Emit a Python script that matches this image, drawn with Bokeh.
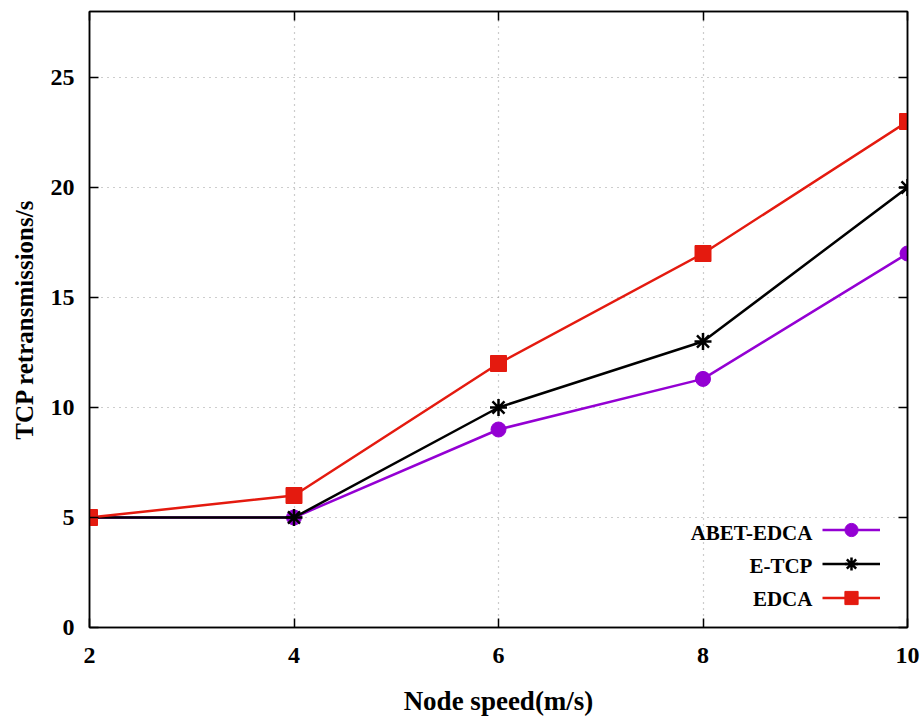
from bokeh.plotting import figure
from bokeh.models import LinearAxis, Legend, LegendItem, FixedTicker, Range1d, Label
from bokeh.embed import file_html
from bokeh.resources import INLINE

speeds = [2, 4, 6, 8, 10]
abet_edca = [5, 5, 9, 11.3, 17]
e_tcp = [5, 5, 10, 13, 20]
edca = [5, 6, 12, 17, 23]
x_ticks = [2, 4, 6, 8, 10]
y_ticks = [0, 5, 10, 15, 20, 25]
series_names = ["ABET-EDCA", "E-TCP", "EDCA"]

FONT = "Liberation Serif"

p = figure(width=922, height=719, output_backend="svg", toolbar_location=None,
           x_range=Range1d(2, 10), y_range=Range1d(0, 28),
           min_border_left=89, min_border_right=15, min_border_top=11, min_border_bottom=92)
p.outline_line_color = "black"
p.outline_line_width = 1.5

for ax in (p.xaxis[0], p.yaxis[0]):
    ax.major_label_text_font = FONT
    ax.major_label_text_font_style = "bold"
    ax.major_label_text_font_size = "24px"
    ax.major_label_text_color = "black"
    ax.axis_label_text_font = FONT
    ax.axis_label_text_font_style = "bold"
    ax.axis_label_text_color = "black"
    ax.major_tick_in = 9
    ax.major_tick_out = 0
    ax.minor_tick_in = 0
    ax.minor_tick_out = 0
    ax.axis_line_color = "black"
    ax.axis_line_width = 1.5
    ax.major_tick_line_width = 1.5

p.xaxis.axis_label_text_font_size = "27px"
p.yaxis.axis_label_text_font_size = "25px"
p.xaxis.ticker = FixedTicker(ticks=x_ticks)
p.yaxis.ticker = FixedTicker(ticks=y_ticks)
p.xaxis.axis_label = "Node speed(m/s)"
p.yaxis.axis_label = "TCP retransmissions/s"
p.xaxis.major_label_standoff = 20
p.xaxis.axis_label_standoff = 20
p.yaxis.major_label_standoff = 15
p.yaxis.axis_label_standoff = 10

# mirror ticks (no labels)
for loc, tk in (("right", y_ticks), ("above", x_ticks)):
    a = LinearAxis(ticker=FixedTicker(ticks=tk))
    a.major_label_overrides = {t: "" for t in tk}
    a.major_label_standoff = 0
    a.major_tick_in = 9
    a.major_tick_out = 0
    a.minor_tick_in = 0
    a.minor_tick_out = 0
    a.axis_line_color = "black"
    a.axis_line_width = 1.5
    a.major_tick_line_width = 1.5
    p.add_layout(a, loc)

p.xgrid.ticker = FixedTicker(ticks=x_ticks)
p.ygrid.ticker = FixedTicker(ticks=y_ticks)
for g in (p.xgrid[0], p.ygrid[0]):
    g.grid_line_color = "#9a9a9a"
    g.grid_line_dash = "1 5"
    g.grid_line_width = 1.2

purple = "#9400D3"
red = "#E41A0F"

l1 = p.line(speeds, abet_edca, line_color=purple, line_width=2.5)
m1 = p.scatter(speeds, abet_edca, marker="circle", size=15, fill_color=purple, line_color=purple)
l2 = p.line(speeds, e_tcp, line_color="black", line_width=2.5)
m2 = p.scatter(speeds, e_tcp, marker="asterisk", size=17, line_color="black", line_width=2.5)
l3 = p.line(speeds, edca, line_color=red, line_width=2.5)
m3 = p.scatter(speeds, edca, marker="square", size=16, fill_color=red, line_color=red)

# legend: glyph samples via Legend, names drawn to their left
legend = Legend(items=[
    LegendItem(label="", renderers=[l1, m1]),
    LegendItem(label="", renderers=[l2, m2]),
    LegendItem(label="", renderers=[l3, m3]),
], location=(733, 13))
legend.label_text_font_size = "10px"
legend.label_width = 0
legend.label_standoff = 0
legend.glyph_width = 58
legend.glyph_height = 33
legend.spacing = 1
legend.padding = 0
legend.margin = 0
legend.background_fill_alpha = 0
legend.border_line_alpha = 0
p.add_layout(legend, "center")

legend_y = [4.3, 2.8, 1.3]
for name, yy in zip(series_names, legend_y):
    p.add_layout(Label(x=9.07, y=yy, text=name, text_align="right", text_baseline="middle",
                       text_font=FONT, text_font_style="bold", text_font_size="21px",
                       text_color="black"))

open("out.html", "w").write(file_html(p, INLINE))
